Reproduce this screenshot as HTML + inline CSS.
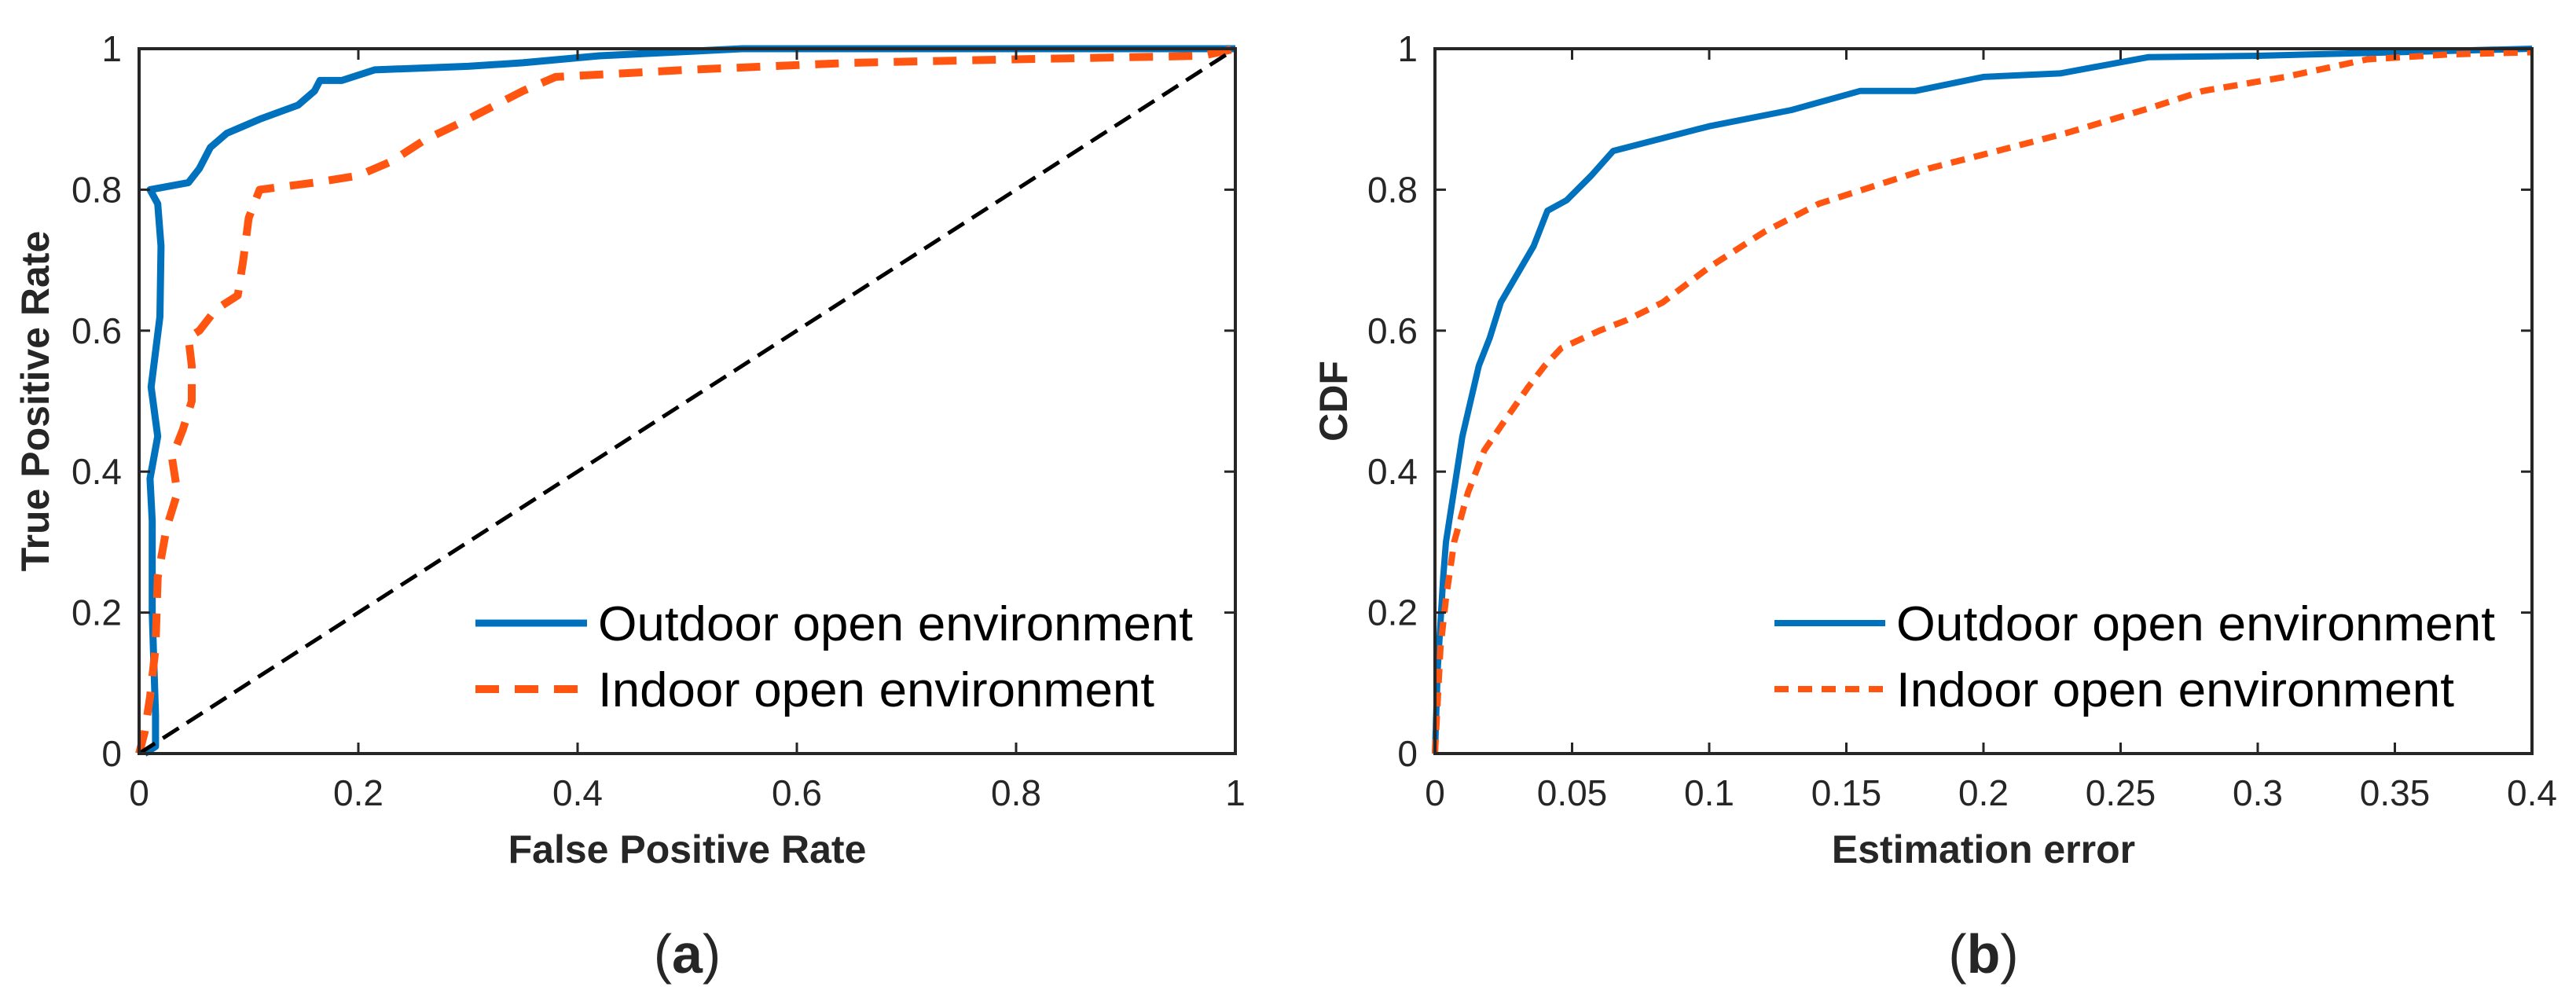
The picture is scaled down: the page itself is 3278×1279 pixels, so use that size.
<!DOCTYPE html>
<html><head><meta charset="utf-8"><style>
html,body{margin:0;padding:0;background:#fff}
svg{display:block}
text{font-family:"Liberation Sans",sans-serif;fill:#262626}
</style></head><body>
<svg id="fig" width="3278" height="1279" viewBox="0 0 3278 1279" xmlns="http://www.w3.org/2000/svg"></svg>
<script>
// Panel (a) ROC data
const rocTicks = [0, 0.2, 0.4, 0.6, 0.8, 1];
const rocTickLabels = ["0", "0.2", "0.4", "0.6", "0.8", "1"];
const rocOutdoorFpr = [0.005,0.015,0.015,0.012,0.012,0.01,0.017,0.011,0.019,0.02,0.017,0.01,0.045,0.055,0.065,0.08,0.095,0.11,0.145,0.16,0.165,0.185,0.195,0.215,0.3,0.35,0.42,0.55,1];
const rocOutdoorTpr = [0,0.01,0.055,0.2,0.33,0.39,0.45,0.52,0.62,0.72,0.78,0.8,0.81,0.83,0.86,0.88,0.89,0.9,0.92,0.94,0.955,0.955,0.96,0.97,0.975,0.98,0.99,1,1];
const rocIndoorFpr = [0,0.005,0.01,0.015,0.017,0.025,0.035,0.03,0.04,0.048,0.048,0.045,0.055,0.07,0.09,0.095,0.1,0.11,0.16,0.2,0.23,0.26,0.3,0.35,0.38,0.5,0.65,0.8,0.97,1];
const rocIndoorTpr = [0,0.03,0.08,0.15,0.25,0.32,0.37,0.42,0.46,0.5,0.55,0.59,0.6,0.63,0.65,0.7,0.76,0.8,0.81,0.82,0.84,0.87,0.9,0.94,0.96,0.97,0.98,0.985,0.99,1];
// Panel (b) CDF data
const cdfXTicks = [0,0.05,0.1,0.15,0.2,0.25,0.3,0.35,0.4];
const cdfXTickLabels = ["0","0.05","0.1","0.15","0.2","0.25","0.3","0.35","0.4"];
const cdfYTicks = [0,0.2,0.4,0.6,0.8,1];
const cdfYTickLabels = ["0","0.2","0.4","0.6","0.8","1"];
const cdfOutdoorErr = [0,0.001,0.003,0.004,0.01,0.016,0.02,0.024,0.03,0.036,0.041,0.048,0.057,0.065,0.08,0.1,0.13,0.155,0.175,0.2,0.228,0.26,0.3,0.35,0.4];
const cdfOutdoorVal = [0,0.12,0.25,0.3,0.45,0.55,0.59,0.64,0.68,0.72,0.77,0.785,0.82,0.855,0.87,0.89,0.913,0.94,0.94,0.96,0.965,0.988,0.99,0.995,1];
const cdfIndoorErr = [0,0.002,0.004,0.007,0.012,0.018,0.025,0.034,0.04,0.046,0.06,0.07,0.083,0.1,0.12,0.14,0.16,0.18,0.2,0.23,0.26,0.28,0.31,0.34,0.37,0.4];
const cdfIndoorVal = [0,0.15,0.22,0.3,0.37,0.43,0.47,0.52,0.55,0.575,0.6,0.615,0.64,0.69,0.74,0.78,0.805,0.83,0.85,0.88,0.915,0.94,0.96,0.985,0.992,0.995];

const NS = "http://www.w3.org/2000/svg";
const svg = document.getElementById('fig');
function mk(tag, attrs, parent, txt){
  const e = document.createElementNS(NS, tag);
  for (const k in attrs) e.setAttribute(k, attrs[k]);
  if (txt !== undefined) e.textContent = txt;
  (parent||svg).appendChild(e);
  return e;
}
const BLUE = "#0072BD", ORANGE = "#FF5511";

function panel(p){
  const g = mk('g', {});
  
  
  const sx = v => p.x0 + (v - p.xmin)/(p.xmax - p.xmin)*(p.x1 - p.x0);
  const sy = v => p.y0 - (v - p.ymin)/(p.ymax - p.ymin)*(p.y0 - p.y1);
  p.series.forEach(s => {
    const d = s.xs.map((x,i)=>(i?'L':'M')+sx(x).toFixed(1)+' '+sy(s.ys[i]).toFixed(1)).join(' ');
    const path = mk('path', {d:d, fill:'none', stroke:s.color, 'stroke-width':s.w, 'stroke-dasharray':s.dash||'none', 'stroke-linejoin':'round'}, g);
    
    
  });
  if (p.diag){
    const dl = mk('line', {x1:sx(0), y1:sy(0), x2:sx(1), y2:sy(1), stroke:'#000', 'stroke-width':5, 'stroke-dasharray':'24 12'}, g);
    
    
  }
  const box = mk('rect', {x:p.x0, y:p.y1, width:p.x1-p.x0, height:p.y0-p.y1, fill:'none', stroke:'#262626', 'stroke-width':4}, g);
  
  
  p.xt.forEach((t,i) => {
    const X = sx(t);
    mk('line', {x1:X, y1:p.y0, x2:X, y2:p.y0-14, stroke:'#262626', 'stroke-width':3}, g);
    mk('line', {x1:X, y1:p.y1, x2:X, y2:p.y1+14, stroke:'#262626', 'stroke-width':3}, g);
    const tl = mk('text', {x:X, y:p.y0+66, 'font-size':46, 'text-anchor':'middle'}, g, p.xl[i]);
    
    
  });
  p.yt.forEach((t,i) => {
    const Y = sy(t);
    mk('line', {x1:p.x0, y1:Y, x2:p.x0+14, y2:Y, stroke:'#262626', 'stroke-width':3}, g);
    mk('line', {x1:p.x1, y1:Y, x2:p.x1-14, y2:Y, stroke:'#262626', 'stroke-width':3}, g);
    const tl = mk('text', {x:p.x0-22, y:Y+16, 'font-size':46, 'text-anchor':'end'}, g, p.yl[i]);
    
    
  });
  const xt = mk('text', {x:(p.x0+p.x1)/2, y:1098, 'font-size':50, 'font-weight':'bold', 'text-anchor':'middle'}, g, p.xtitle);
  
  
  const yt = mk('text', {x:0, y:0, 'font-size':50, 'font-weight':'bold', 'text-anchor':'middle', transform:`translate(${p.ytx},${(p.y0+p.y1)/2}) rotate(-90)`}, g, p.ytitle);
  
  
  const pl = mk('text', {x:(p.x0+p.x1)/2, y:1238, 'font-size':70, 'font-family':'Liberation Serif, serif', 'text-anchor':'middle'}, g);
  mk('tspan', {}, pl, '(');
  mk('tspan', {'font-weight':'bold'}, pl, p.label);
  mk('tspan', {}, pl, ')');
  
  
  const lg = mk('g', {}, g);
  
  
  p.series.forEach((s,i) => {
    const Y = 793 + i*84;
    const e = mk('g', {}, lg);
    
    
    mk('line', {x1:p.lx0, y1:Y, x2:p.lx1, y2:Y, stroke:s.color, 'stroke-width':s.w, 'stroke-dasharray':s.dash||'none'}, e);
    mk('text', {x:p.lx1+14, y:Y+22, 'font-size':62, style:'fill:#000', textLength:s.tl, lengthAdjust:'spacingAndGlyphs'}, e, s.label);
  });
}

panel({name:'roc-panel', x0:177, x1:1572, y0:959, y1:62, xmin:0, xmax:1, ymin:0, ymax:1,
  xt:rocTicks, xl:rocTickLabels, yt:rocTicks, yl:rocTickLabels,
  xtitle:'False Positive Rate', ytitle:'True Positive Rate', ytx:62, label:'a', diag:true,
  lx0:605, lx1:747,
  series:[
    {name:'outdoor-roc-line', xs:rocOutdoorFpr, ys:rocOutdoorTpr, color:BLUE, w:9, label:'Outdoor open environment', tl:757},
    {name:'indoor-roc-line', xs:rocIndoorFpr, ys:rocIndoorTpr, color:ORANGE, w:10, dash:'30 20', label:'Indoor open environment', tl:708}
  ]});
panel({name:'cdf-panel', x0:1826, x1:3222, y0:959, y1:62, xmin:0, xmax:0.4, ymin:0, ymax:1,
  xt:cdfXTicks, xl:cdfXTickLabels, yt:cdfYTicks, yl:cdfYTickLabels,
  xtitle:'Estimation error', ytitle:'CDF', ytx:1714, label:'b', diag:false,
  lx0:2258, lx1:2399,
  series:[
    {name:'outdoor-cdf-line', xs:cdfOutdoorErr, ys:cdfOutdoorVal, color:BLUE, w:8, label:'Outdoor open environment', tl:762},
    {name:'indoor-cdf-line', xs:cdfIndoorErr, ys:cdfIndoorVal, color:ORANGE, w:8, dash:'18 12', label:'Indoor open environment', tl:710}
  ]});
</script>
</body></html>
